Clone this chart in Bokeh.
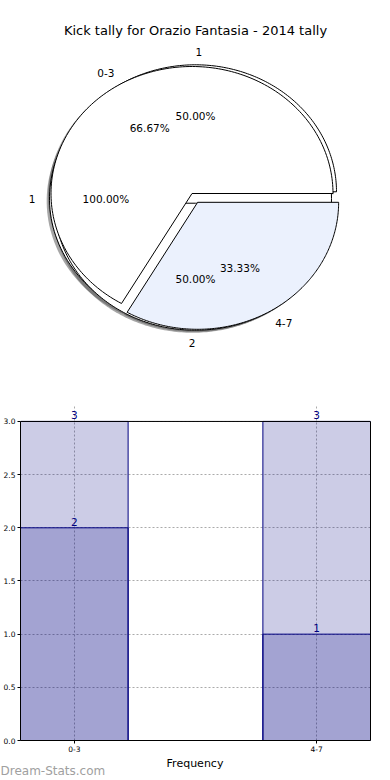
import numpy as np
from bokeh.plotting import figure
from bokeh.layouts import column
from bokeh.models import (Range1d, Label, LabelSet, FixedTicker, ColumnDataSource,
                          PrintfTickFormatter, LinearAxis, Span)
from bokeh.core.properties import value, field
from bokeh.embed import file_html
from bokeh.resources import INLINE

# ---------------- data ----------------
chart_title = "Kick tally for Orazio Fantasia - 2014 tally"
pie_a_labels = ["0-3", "4-7"]
pie_a_values = [2, 1]
pie_b_labels = ["1", "2"]
pie_b_values = [1, 1]
pie_c_labels = ["1"]
pie_c_values = [1]

categories = ["0-3", "4-7"]
bar_totals = [3, 3]
bar_counts = [2, 1]
y_ticks = [0.0, 0.5, 1.0, 1.5, 2.0, 2.5, 3.0]
x_label = "Frequency"
watermark = "Dream-Stats.com"

FONT = "DejaVu Sans"

# ---------------- pie figure ----------------
W, H = 390, 390
SX, SY = 141.0, 127.0      # px per unit radius
OX, OY = 191.5, 193.0      # pixel position of the main pie centre

p1 = figure(width=W, height=H, output_backend="svg", toolbar_location=None,
            x_range=Range1d(-OX / SX, (W - OX) / SX),
            y_range=Range1d(-(H - OY) / SY, OY / SY),
            min_border=0, tools="")
p1.axis.visible = False
p1.grid.visible = False
p1.outline_line_color = None
p1.background_fill_color = "white"

pies = [
    dict(labels=pie_c_labels, values=pie_c_values, colors=["white"],
         shift=(-1.5, 5.0), explode=[0.0]),
    dict(labels=pie_b_labels, values=pie_b_values, colors=["white", "white"],
         shift=(3.5, 4.0), explode=[0.045, 0.045]),
    dict(labels=pie_a_labels, values=pie_a_values, colors=["white", "#EBF1FD"],
         shift=(0.0, 0.0), explode=[0.0, 0.08]),
]


def wedge_poly(cx, cy, t1, t2, full):
    t = np.radians(np.linspace(t1, t2, 180))
    xs = list(cx + np.cos(t))
    ys = list(cy + np.sin(t))
    if not full:
        xs = [cx] + xs + [cx]
        ys = [cy] + ys + [cy]
    return xs, ys


wedges = dict(xs=[], ys=[], color=[])
shadows = dict(xs=[], ys=[])
txt = dict(x=[], y=[], text=[], align=[])

for pie in pies:
    vals = np.array(pie["values"], dtype=float)
    fr = vals / vals.sum()
    bx = pie["shift"][0] / SX
    by = -pie["shift"][1] / SY
    t1 = 0.0
    for lab, f, col, ex in zip(pie["labels"], fr, pie["colors"], pie["explode"]):
        t2 = t1 + 360.0 * f
        tm = np.radians((t1 + t2) / 2.0)
        cx = bx + ex * np.cos(tm)
        cy = by + ex * np.sin(tm)
        full = abs(f - 1.0) < 1e-9
        xs, ys = wedge_poly(cx, cy, t1, t2, full)
        wedges["xs"].append(xs)
        wedges["ys"].append(ys)
        wedges["color"].append(col)
        shadows["xs"].append([v - 0.02 for v in xs])
        shadows["ys"].append([v - 0.02 for v in ys])
        txt["x"].append(cx + 1.1 * np.cos(tm))
        txt["y"].append(cy + 1.1 * np.sin(tm))
        txt["text"].append(lab)
        txt["align"].append("left" if np.cos(tm) > 0 else "right")
        txt["x"].append(cx + 0.6 * np.cos(tm))
        txt["y"].append(cy + 0.6 * np.sin(tm))
        txt["text"].append("%.2f%%" % (f * 100))
        txt["align"].append("center")
        t1 = t2

p1.patches(xs="xs", ys="ys", source=ColumnDataSource(shadows),
           fill_color="#4D4D4D", fill_alpha=0.5, line_color=None)
p1.patches(xs="xs", ys="ys", source=ColumnDataSource(wedges),
           fill_color="color", line_color="black", line_width=1)
p1.text(x="x", y="y", text="text", source=ColumnDataSource(txt),
        text_align=field("align"), text_baseline="middle",
        text_font=value(FONT), text_font_size="10.5px", text_color="black")

p1.add_layout(Label(x=W / 2, y=H - 30, x_units="screen", y_units="screen",
                    text=chart_title, text_align="center", text_baseline="middle",
                    text_font=FONT, text_font_size="13px", text_color="black"))

# ---------------- bar figure ----------------
BW = 0.444
YTOP = max(y_ticks)
xs_pos = list(range(len(categories)))
H2 = 366
LB, RB = 19, 20
p2 = figure(width=W, height=H2, output_backend="svg", toolbar_location=None,
            x_range=Range1d(-BW / 2, len(categories) - 1 + BW / 2),
            y_range=Range1d(0, YTOP * 1.05), tools="",
            min_border_left=LB, min_border_right=RB, min_border_top=15,
            min_border_bottom=16)

p2.vbar(x=xs_pos, top=bar_totals, width=BW, fill_color="navy", fill_alpha=0.2,
        line_color="navy", line_width=1)
p2.vbar(x=xs_pos, top=bar_counts, width=BW, fill_color="navy", fill_alpha=0.2,
        line_color="navy", line_width=1)

lab_src = ColumnDataSource(dict(x=xs_pos + xs_pos, y=bar_totals + bar_counts,
                                t=[str(v) for v in bar_totals + bar_counts]))
p2.add_layout(LabelSet(x="x", y="y", text="t", source=lab_src, text_align="center",
                       text_baseline="bottom", y_offset=2, text_color="navy",
                       text_font=value(FONT), text_font_size="10.5px"))

p2.outline_line_color = None
p2.add_layout(Span(location=YTOP, dimension="width", line_color="black", line_width=1))
right_ax = LinearAxis(bounds=(0, YTOP), ticker=FixedTicker(ticks=[]),
                      major_tick_line_color=None, minor_tick_line_color=None,
                      axis_line_color="black")
p2.add_layout(right_ax, "right")

p2.yaxis[0].ticker = FixedTicker(ticks=y_ticks)
p2.yaxis[0].formatter = PrintfTickFormatter(format="%.1f")
p2.yaxis[0].bounds = (0, YTOP)
p2.xaxis.ticker = FixedTicker(ticks=xs_pos)
p2.xaxis.major_label_overrides = {i: c for i, c in enumerate(categories)}
for ax in (p2.xaxis[0], p2.yaxis[0]):
    ax.axis_line_color = "black"
    ax.major_tick_out = 3
    ax.major_tick_in = 0
    ax.minor_tick_line_color = None
    ax.major_label_text_font = FONT
    ax.major_label_text_font_size = "7.5px"
    ax.major_label_text_color = "black"
    ax.major_label_text_line_height = 1.0
    ax.major_label_standoff = 2
p2.xaxis.major_label_standoff = 2

p2.grid.grid_line_color = "#AAAAAA"
p2.grid.grid_line_dash = "2 2"
p2.grid.grid_line_width = 1
p2.xgrid.bounds = (0, YTOP)

# ---------------- axis title + watermark strip ----------------
H3 = 780 - H - H2
p3 = figure(width=W, height=H3, output_backend="svg", toolbar_location=None,
            x_range=Range1d(0, W), y_range=Range1d(0, H3), min_border=0, tools="")
p3.axis.visible = False
p3.grid.visible = False
p3.outline_line_color = None
p3.add_layout(Label(x=(LB + W - RB) / 2, y=H3, x_units="screen", y_units="screen",
                    text=x_label, text_align="center", text_baseline="top",
                    text_font=FONT, text_font_size="11px", text_color="black"))
p3.add_layout(Label(x=0, y=10, x_units="screen", y_units="screen",
                    text=watermark, text_align="left", text_baseline="middle",
                    text_font=FONT, text_font_size="12px", text_color="#A0A0A0"))

for fig in (p1, p2, p3):
    if "frame_align" in fig.properties():
        fig.frame_align = False

layout = column(p1, p2, p3, spacing=0)
open("out.html", "w").write(file_html(layout, INLINE))
